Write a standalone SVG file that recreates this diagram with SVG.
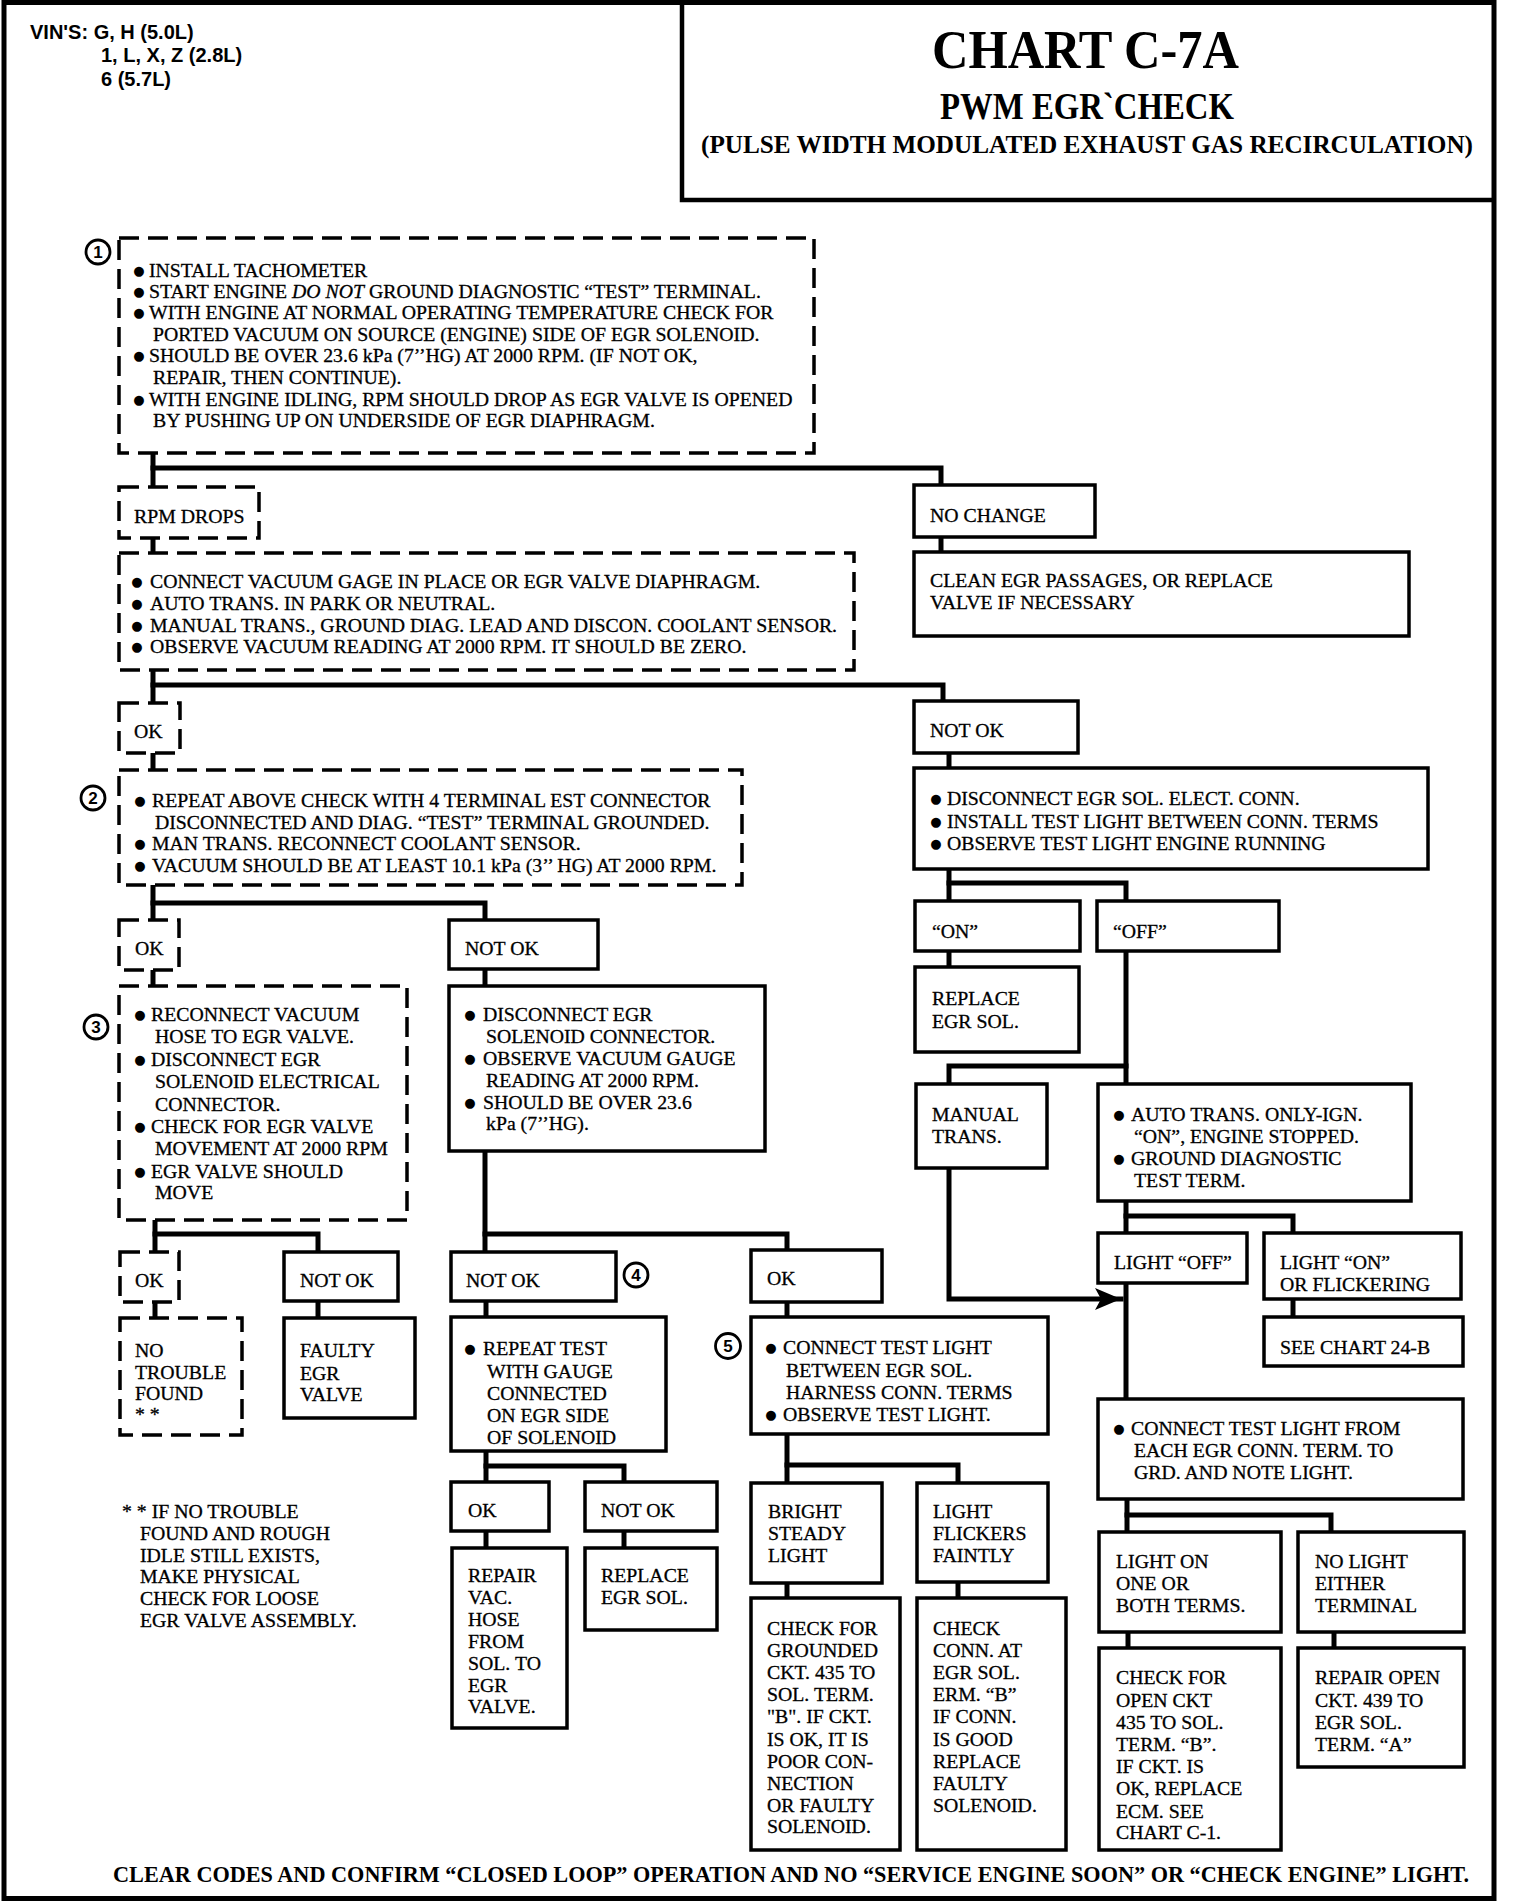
<svg xmlns="http://www.w3.org/2000/svg" width="1520" height="1902" viewBox="0 0 1520 1902">
<defs>
<style>
.c{fill:none;stroke:#000;stroke-width:5;stroke-linejoin:miter;stroke-linecap:square}
.s{fill:#fff;stroke:#000;stroke-width:3.5}
.d{fill:#fff;stroke:#000;stroke-width:3.5;stroke-dasharray:20 9}
.t{font-family:"Liberation Serif","Times New Roman",serif;font-size:19.8px;fill:#000;stroke:#000;stroke-width:0.3}
.bl{font-family:"DejaVu Sans",sans-serif;font-size:13px;fill:#000;text-anchor:middle}
.n{fill:#fff;stroke:#000;stroke-width:2.8}
.nt{font-family:"Liberation Sans",Arial,sans-serif;font-weight:bold;font-size:17px;fill:#000;text-anchor:middle}
.v{font-family:"Liberation Sans",Arial,sans-serif;font-weight:bold;font-size:20px;fill:#000}
.h{font-family:"Liberation Serif","Times New Roman",serif;font-weight:bold;fill:#000}
</style>
<marker id="ah" markerWidth="28" markerHeight="22" refX="26" refY="11" orient="auto" markerUnits="userSpaceOnUse">
<path d="M0,0 L26,11 L0,22 L6,11 Z" fill="#000"/>
</marker>
</defs>
<rect width="1520" height="1902" fill="#fff"/>
<rect x="4" y="2.5" width="1490" height="1896" fill="none" stroke="#000" stroke-width="5"/>

<g id="vins">
<text class="v" x="30" y="39">VIN'S: G, H (5.0L)</text>
<text class="v" x="101" y="62">1, L, X, Z (2.8L)</text>
<text class="v" x="101" y="86">6 (5.7L)</text>
</g>

<g id="title">
<path d="M682,2.5 V200 H1494" fill="none" stroke="#000" stroke-width="4.5"/>
<text class="h" x="932" y="68" font-size="54" textLength="307" lengthAdjust="spacingAndGlyphs">CHART C-7A</text>
<text class="h" x="940" y="119" font-size="38" textLength="294" lengthAdjust="spacingAndGlyphs">PWM EGR`CHECK</text>
<text class="h" x="701" y="153" font-size="26" textLength="772" lengthAdjust="spacingAndGlyphs">(PULSE WIDTH MODULATED EXHAUST GAS RECIRCULATION)</text>
</g>

<g id="connectors">
<path class="c" d="M153,453 V487"/>
<path class="c" d="M153,468 H941 V485"/>
<path class="c" d="M153,538 V553"/>
<path class="c" d="M941,537 V552"/>
<path class="c" d="M153,670 V703"/>
<path class="c" d="M153,685 H943 V701"/>
<path class="c" d="M153,753 V770"/>
<path class="c" d="M153,885 V920"/>
<path class="c" d="M153,903 H485 V920"/>
<path class="c" d="M153,970 V986"/>
<path class="c" d="M155,1220 V1252"/>
<path class="c" d="M155,1234 H318 V1252"/>
<path class="c" d="M155,1302 V1318"/>
<path class="c" d="M318,1301 V1318"/>
<path class="c" d="M485,969 V986"/>
<path class="c" d="M485,1151 V1252"/>
<path class="c" d="M485,1234 H787 V1250"/>
<path class="c" d="M486,1301 V1317"/>
<path class="c" d="M486,1451 V1482"/>
<path class="c" d="M486,1466 H624 V1482"/>
<path class="c" d="M486,1531 V1548"/>
<path class="c" d="M624,1531 V1548"/>
<path class="c" d="M787,1302 V1317"/>
<path class="c" d="M787,1434 V1483"/>
<path class="c" d="M787,1465 H958 V1483"/>
<path class="c" d="M787,1583 V1598"/>
<path class="c" d="M958,1582 V1598"/>
<path class="c" d="M949,753 V768"/>
<path class="c" d="M949,869 V901"/>
<path class="c" d="M949,883 H1126 V901"/>
<path class="c" d="M949,951 V967"/>
<path class="c" d="M1126,951 V1084"/>
<path class="c" d="M1126,1066 H949 V1084"/>
<path class="c" d="M949,1168 V1299 H1121" marker-end="url(#ah)"/>
<path class="c" d="M1126,1201 V1399"/>
<path class="c" d="M1126,1216 H1293 V1233"/>
<path class="c" d="M1293,1299 V1317"/>
<path class="c" d="M1127,1499 V1532"/>
<path class="c" d="M1127,1515 H1331 V1532"/>
<path class="c" d="M1128,1632 V1648"/>
<path class="c" d="M1334,1632 V1648"/>
</g>

<g id="step1">
<rect class="d" x="119" y="238" width="695" height="215"/>
<circle class="n" cx="98" cy="252" r="12"/>
<text class="nt" x="98" y="258">1</text>
<text class="bl" x="139" y="275">●</text>
<text class="t" x="149" y="277">INSTALL TACHOMETER</text>
<text class="bl" x="139" y="296">●</text>
<text class="t" x="149" y="298">START ENGINE <tspan font-style="italic">DO NOT</tspan> GROUND DIAGNOSTIC “TEST” TERMINAL.</text>
<text class="bl" x="139" y="317">●</text>
<text class="t" x="149" y="319">WITH ENGINE AT NORMAL OPERATING TEMPERATURE CHECK FOR</text>
<text class="t" x="153" y="341">PORTED VACUUM ON SOURCE (ENGINE) SIDE OF EGR SOLENOID.</text>
<text class="bl" x="139" y="360">●</text>
<text class="t" x="149" y="362">SHOULD BE OVER 23.6 kPa (7’’HG) AT 2000 RPM. (IF NOT OK,</text>
<text class="t" x="153" y="384">REPAIR, THEN CONTINUE).</text>
<text class="bl" x="139" y="404">●</text>
<text class="t" x="149" y="406">WITH ENGINE IDLING, RPM SHOULD DROP AS EGR VALVE IS OPENED</text>
<text class="t" x="153" y="427">BY PUSHING UP ON UNDERSIDE OF EGR DIAPHRAGM.</text>
</g>

<g id="rpm-drops">
<rect class="d" x="119" y="487" width="140" height="51"/>
<text class="t" x="134" y="523">RPM DROPS</text>
</g>

<g id="no-change">
<rect class="s" x="914" y="485" width="181" height="52"/>
<text class="t" x="930" y="522">NO CHANGE</text>
</g>

<g id="clean-egr">
<rect class="s" x="914" y="552" width="495" height="84"/>
<text class="t" x="930" y="587">CLEAN EGR PASSAGES, OR REPLACE</text>
<text class="t" x="930" y="609">VALVE IF NECESSARY</text>
</g>

<g id="vacuum-gage">
<rect class="d" x="119" y="553" width="735" height="117"/>
<text class="bl" x="137" y="586">●</text>
<text class="t" x="150" y="588">CONNECT VACUUM GAGE IN PLACE OR EGR VALVE DIAPHRAGM.</text>
<text class="bl" x="137" y="608">●</text>
<text class="t" x="150" y="610">AUTO TRANS. IN PARK OR NEUTRAL.</text>
<text class="bl" x="137" y="630">●</text>
<text class="t" x="150" y="632">MANUAL TRANS., GROUND DIAG. LEAD AND DISCON. COOLANT SENSOR.</text>
<text class="bl" x="137" y="651">●</text>
<text class="t" x="150" y="653">OBSERVE VACUUM READING AT 2000 RPM. IT SHOULD BE ZERO.</text>
</g>

<g id="ok-1">
<rect class="d" x="119" y="703" width="61" height="50"/>
<text class="t" x="134" y="738">OK</text>
</g>

<g id="not-ok-1">
<rect class="s" x="914" y="701" width="164" height="52"/>
<text class="t" x="930" y="737">NOT OK</text>
</g>

<g id="step2">
<rect class="d" x="119" y="770" width="623" height="115"/>
<circle class="n" cx="93" cy="798" r="12"/>
<text class="nt" x="93" y="804">2</text>
<text class="bl" x="140" y="805">●</text>
<text class="t" x="152" y="807">REPEAT ABOVE CHECK WITH 4 TERMINAL EST CONNECTOR</text>
<text class="t" x="155" y="829">DISCONNECTED AND DIAG. “TEST” TERMINAL GROUNDED.</text>
<text class="bl" x="140" y="848">●</text>
<text class="t" x="152" y="850">MAN TRANS. RECONNECT COOLANT SENSOR.</text>
<text class="bl" x="140" y="870">●</text>
<text class="t" x="152" y="872">VACUUM SHOULD BE AT LEAST 10.1 kPa (3’’ HG) AT 2000 RPM.</text>
</g>

<g id="disconnect-sol-conn">
<rect class="s" x="914" y="768" width="514" height="101"/>
<text class="bl" x="936" y="803">●</text>
<text class="t" x="947" y="805">DISCONNECT EGR SOL. ELECT. CONN.</text>
<text class="bl" x="936" y="826">●</text>
<text class="t" x="947" y="828">INSTALL TEST LIGHT BETWEEN CONN. TERMS</text>
<text class="bl" x="936" y="848">●</text>
<text class="t" x="947" y="850">OBSERVE TEST LIGHT ENGINE RUNNING</text>
</g>

<g id="on">
<rect class="s" x="915" y="901" width="165" height="50"/>
<text class="t" x="932" y="938">“ON”</text>
</g>

<g id="off">
<rect class="s" x="1097" y="901" width="182" height="50"/>
<text class="t" x="1113" y="938">“OFF”</text>
</g>

<g id="ok-2">
<rect class="d" x="119" y="920" width="60" height="50"/>
<text class="t" x="135" y="955">OK</text>
</g>

<g id="not-ok-2">
<rect class="s" x="449" y="920" width="149" height="49"/>
<text class="t" x="465" y="955">NOT OK</text>
</g>

<g id="replace-sol-1">
<rect class="s" x="915" y="967" width="164" height="85"/>
<text class="t" x="932" y="1005">REPLACE</text>
<text class="t" x="932" y="1028">EGR SOL.</text>
</g>

<g id="step3">
<rect class="d" x="119" y="986" width="288" height="234"/>
<circle class="n" cx="96" cy="1027" r="12"/>
<text class="nt" x="96" y="1033">3</text>
<text class="bl" x="140" y="1019">●</text>
<text class="t" x="151" y="1021">RECONNECT VACUUM</text>
<text class="t" x="155" y="1043">HOSE TO EGR VALVE.</text>
<text class="bl" x="140" y="1064">●</text>
<text class="t" x="151" y="1066">DISCONNECT EGR</text>
<text class="t" x="155" y="1088">SOLENOID ELECTRICAL</text>
<text class="t" x="155" y="1111">CONNECTOR.</text>
<text class="bl" x="140" y="1131">●</text>
<text class="t" x="151" y="1133">CHECK FOR EGR VALVE</text>
<text class="t" x="155" y="1155">MOVEMENT AT 2000 RPM</text>
<text class="bl" x="140" y="1176">●</text>
<text class="t" x="151" y="1178">EGR VALVE SHOULD</text>
<text class="t" x="155" y="1199">MOVE</text>
</g>

<g id="disconnect-egr-sol">
<rect class="s" x="449" y="986" width="316" height="165"/>
<text class="bl" x="470" y="1019">●</text>
<text class="t" x="483" y="1021">DISCONNECT EGR</text>
<text class="t" x="486" y="1043">SOLENOID CONNECTOR.</text>
<text class="bl" x="470" y="1063">●</text>
<text class="t" x="483" y="1065">OBSERVE VACUUM GAUGE</text>
<text class="t" x="486" y="1087">READING AT 2000 RPM.</text>
<text class="bl" x="470" y="1107">●</text>
<text class="t" x="483" y="1109">SHOULD BE OVER 23.6</text>
<text class="t" x="486" y="1130">kPa (7’’HG).</text>
</g>

<g id="manual-trans">
<rect class="s" x="916" y="1084" width="131" height="84"/>
<text class="t" x="932" y="1121">MANUAL</text>
<text class="t" x="932" y="1143">TRANS.</text>
</g>

<g id="auto-trans">
<rect class="s" x="1098" y="1084" width="313" height="117"/>
<text class="bl" x="1119" y="1119">●</text>
<text class="t" x="1131" y="1121">AUTO TRANS. ONLY-IGN.</text>
<text class="t" x="1134" y="1143">“ON”, ENGINE STOPPED.</text>
<text class="bl" x="1119" y="1163">●</text>
<text class="t" x="1131" y="1165">GROUND DIAGNOSTIC</text>
<text class="t" x="1134" y="1187">TEST TERM.</text>
</g>

<g id="light-off">
<rect class="s" x="1098" y="1233" width="149" height="50"/>
<text class="t" x="1114" y="1269">LIGHT “OFF”</text>
</g>

<g id="light-on-flicker">
<rect class="s" x="1264" y="1233" width="197" height="66"/>
<text class="t" x="1280" y="1269">LIGHT “ON”</text>
<text class="t" x="1280" y="1291">OR FLICKERING</text>
</g>

<g id="see-chart">
<rect class="s" x="1264" y="1317" width="199" height="49"/>
<text class="t" x="1280" y="1354">SEE CHART 24-B</text>
</g>

<g id="ok-3">
<rect class="d" x="120" y="1252" width="59" height="50"/>
<text class="t" x="135" y="1287">OK</text>
</g>

<g id="not-ok-3">
<rect class="s" x="284" y="1252" width="114" height="49"/>
<text class="t" x="300" y="1287">NOT OK</text>
</g>

<g id="not-ok-4">
<rect class="s" x="451" y="1252" width="165" height="49"/>
<text class="t" x="466" y="1287">NOT OK</text>
<circle class="n" cx="636" cy="1275" r="12"/>
<text class="nt" x="636" y="1281">4</text>
</g>

<g id="ok-4">
<rect class="s" x="751" y="1250" width="131" height="52"/>
<text class="t" x="767" y="1285">OK</text>
</g>

<g id="no-trouble">
<rect class="d" x="120" y="1318" width="122" height="117"/>
<text class="t" x="135" y="1357">NO</text>
<text class="t" x="135" y="1379">TROUBLE</text>
<text class="t" x="135" y="1400">FOUND</text>
<text class="t" x="135" y="1421">* *</text>
</g>

<g id="faulty-valve">
<rect class="s" x="284" y="1318" width="131" height="100"/>
<text class="t" x="300" y="1357">FAULTY</text>
<text class="t" x="300" y="1380">EGR</text>
<text class="t" x="300" y="1401">VALVE</text>
</g>

<g id="repeat-test">
<rect class="s" x="451" y="1317" width="215" height="134"/>
<text class="bl" x="470" y="1353">●</text>
<text class="t" x="483" y="1355">REPEAT TEST</text>
<text class="t" x="487" y="1378">WITH GAUGE</text>
<text class="t" x="487" y="1400">CONNECTED</text>
<text class="t" x="487" y="1422">ON EGR SIDE</text>
<text class="t" x="487" y="1444">OF SOLENOID</text>
</g>

<g id="step5">
<rect class="s" x="751" y="1317" width="297" height="117"/>
<circle class="n" cx="728" cy="1346" r="12.5"/>
<text class="nt" x="728" y="1352">5</text>
<text class="bl" x="771" y="1352">●</text>
<text class="t" x="783" y="1354">CONNECT TEST LIGHT</text>
<text class="t" x="786" y="1377">BETWEEN EGR SOL.</text>
<text class="t" x="786" y="1399">HARNESS CONN. TERMS</text>
<text class="bl" x="771" y="1419">●</text>
<text class="t" x="783" y="1421">OBSERVE TEST LIGHT.</text>
</g>

<g id="connect-from-each">
<rect class="s" x="1098" y="1399" width="365" height="100"/>
<text class="bl" x="1119" y="1433">●</text>
<text class="t" x="1131" y="1435">CONNECT TEST LIGHT FROM</text>
<text class="t" x="1134" y="1457">EACH EGR CONN. TERM. TO</text>
<text class="t" x="1134" y="1479">GRD. AND NOTE LIGHT.</text>
</g>

<g id="ok-5">
<rect class="s" x="451" y="1482" width="98" height="49"/>
<text class="t" x="468" y="1517">OK</text>
</g>

<g id="not-ok-5">
<rect class="s" x="585" y="1482" width="132" height="49"/>
<text class="t" x="601" y="1517">NOT OK</text>
</g>

<g id="bright-steady">
<rect class="s" x="751" y="1483" width="131" height="100"/>
<text class="t" x="768" y="1518">BRIGHT</text>
<text class="t" x="768" y="1540">STEADY</text>
<text class="t" x="768" y="1562">LIGHT</text>
</g>

<g id="light-flickers">
<rect class="s" x="917" y="1483" width="131" height="99"/>
<text class="t" x="933" y="1518">LIGHT</text>
<text class="t" x="933" y="1540">FLICKERS</text>
<text class="t" x="933" y="1562">FAINTLY</text>
</g>

<g id="footnote">
<text class="t" x="122" y="1518">* * IF NO TROUBLE</text>
<text class="t" x="140" y="1540">FOUND AND ROUGH</text>
<text class="t" x="140" y="1562">IDLE STILL EXISTS,</text>
<text class="t" x="140" y="1583">MAKE PHYSICAL</text>
<text class="t" x="140" y="1605">CHECK FOR LOOSE</text>
<text class="t" x="140" y="1627">EGR VALVE ASSEMBLY.</text>
</g>

<g id="light-on-one">
<rect class="s" x="1099" y="1532" width="182" height="100"/>
<text class="t" x="1116" y="1568">LIGHT ON</text>
<text class="t" x="1116" y="1590">ONE OR</text>
<text class="t" x="1116" y="1612">BOTH TERMS.</text>
</g>

<g id="no-light">
<rect class="s" x="1298" y="1532" width="166" height="100"/>
<text class="t" x="1315" y="1568">NO LIGHT</text>
<text class="t" x="1315" y="1590">EITHER</text>
<text class="t" x="1315" y="1612">TERMINAL</text>
</g>

<g id="repair-vac">
<rect class="s" x="452" y="1548" width="115" height="180"/>
<text class="t" x="468" y="1582">REPAIR</text>
<text class="t" x="468" y="1604">VAC.</text>
<text class="t" x="468" y="1626">HOSE</text>
<text class="t" x="468" y="1648">FROM</text>
<text class="t" x="468" y="1670">SOL. TO</text>
<text class="t" x="468" y="1692">EGR</text>
<text class="t" x="468" y="1713">VALVE.</text>
</g>

<g id="replace-sol-2">
<rect class="s" x="585" y="1548" width="132" height="82"/>
<text class="t" x="601" y="1582">REPLACE</text>
<text class="t" x="601" y="1604">EGR SOL.</text>
</g>

<g id="check-grounded">
<rect class="s" x="751" y="1598" width="149" height="252"/>
<text class="t" x="767" y="1635">CHECK FOR</text>
<text class="t" x="767" y="1657">GROUNDED</text>
<text class="t" x="767" y="1679">CKT. 435 TO</text>
<text class="t" x="767" y="1701">SOL. TERM.</text>
<text class="t" x="767" y="1723">"B". IF CKT.</text>
<text class="t" x="767" y="1746">IS OK, IT IS</text>
<text class="t" x="767" y="1768">POOR CON-</text>
<text class="t" x="767" y="1790">NECTION</text>
<text class="t" x="767" y="1812">OR FAULTY</text>
<text class="t" x="767" y="1833">SOLENOID.</text>
</g>

<g id="check-conn">
<rect class="s" x="917" y="1598" width="149" height="252"/>
<text class="t" x="933" y="1635">CHECK</text>
<text class="t" x="933" y="1657">CONN. AT</text>
<text class="t" x="933" y="1679">EGR SOL.</text>
<text class="t" x="933" y="1701">ERM. “B”</text>
<text class="t" x="933" y="1723">IF CONN.</text>
<text class="t" x="933" y="1746">IS GOOD</text>
<text class="t" x="933" y="1768">REPLACE</text>
<text class="t" x="933" y="1790">FAULTY</text>
<text class="t" x="933" y="1812">SOLENOID.</text>
</g>

<g id="check-open">
<rect class="s" x="1099" y="1648" width="182" height="202"/>
<text class="t" x="1116" y="1684">CHECK FOR</text>
<text class="t" x="1116" y="1707">OPEN CKT</text>
<text class="t" x="1116" y="1729">435 TO SOL.</text>
<text class="t" x="1116" y="1751">TERM. “B”.</text>
<text class="t" x="1116" y="1773">IF CKT. IS</text>
<text class="t" x="1116" y="1795">OK, REPLACE</text>
<text class="t" x="1116" y="1818">ECM. SEE</text>
<text class="t" x="1116" y="1839">CHART C-1.</text>
</g>

<g id="repair-open">
<rect class="s" x="1298" y="1648" width="166" height="119"/>
<text class="t" x="1315" y="1684">REPAIR OPEN</text>
<text class="t" x="1315" y="1707">CKT. 439 TO</text>
<text class="t" x="1315" y="1729">EGR SOL.</text>
<text class="t" x="1315" y="1751">TERM. “A”</text>
</g>

<g id="footer">
<text class="h" x="113" y="1882" font-size="23" textLength="1356" lengthAdjust="spacingAndGlyphs">CLEAR CODES AND CONFIRM “CLOSED LOOP” OPERATION AND NO “SERVICE ENGINE SOON” OR “CHECK ENGINE” LIGHT.</text>
</g>
</svg>
